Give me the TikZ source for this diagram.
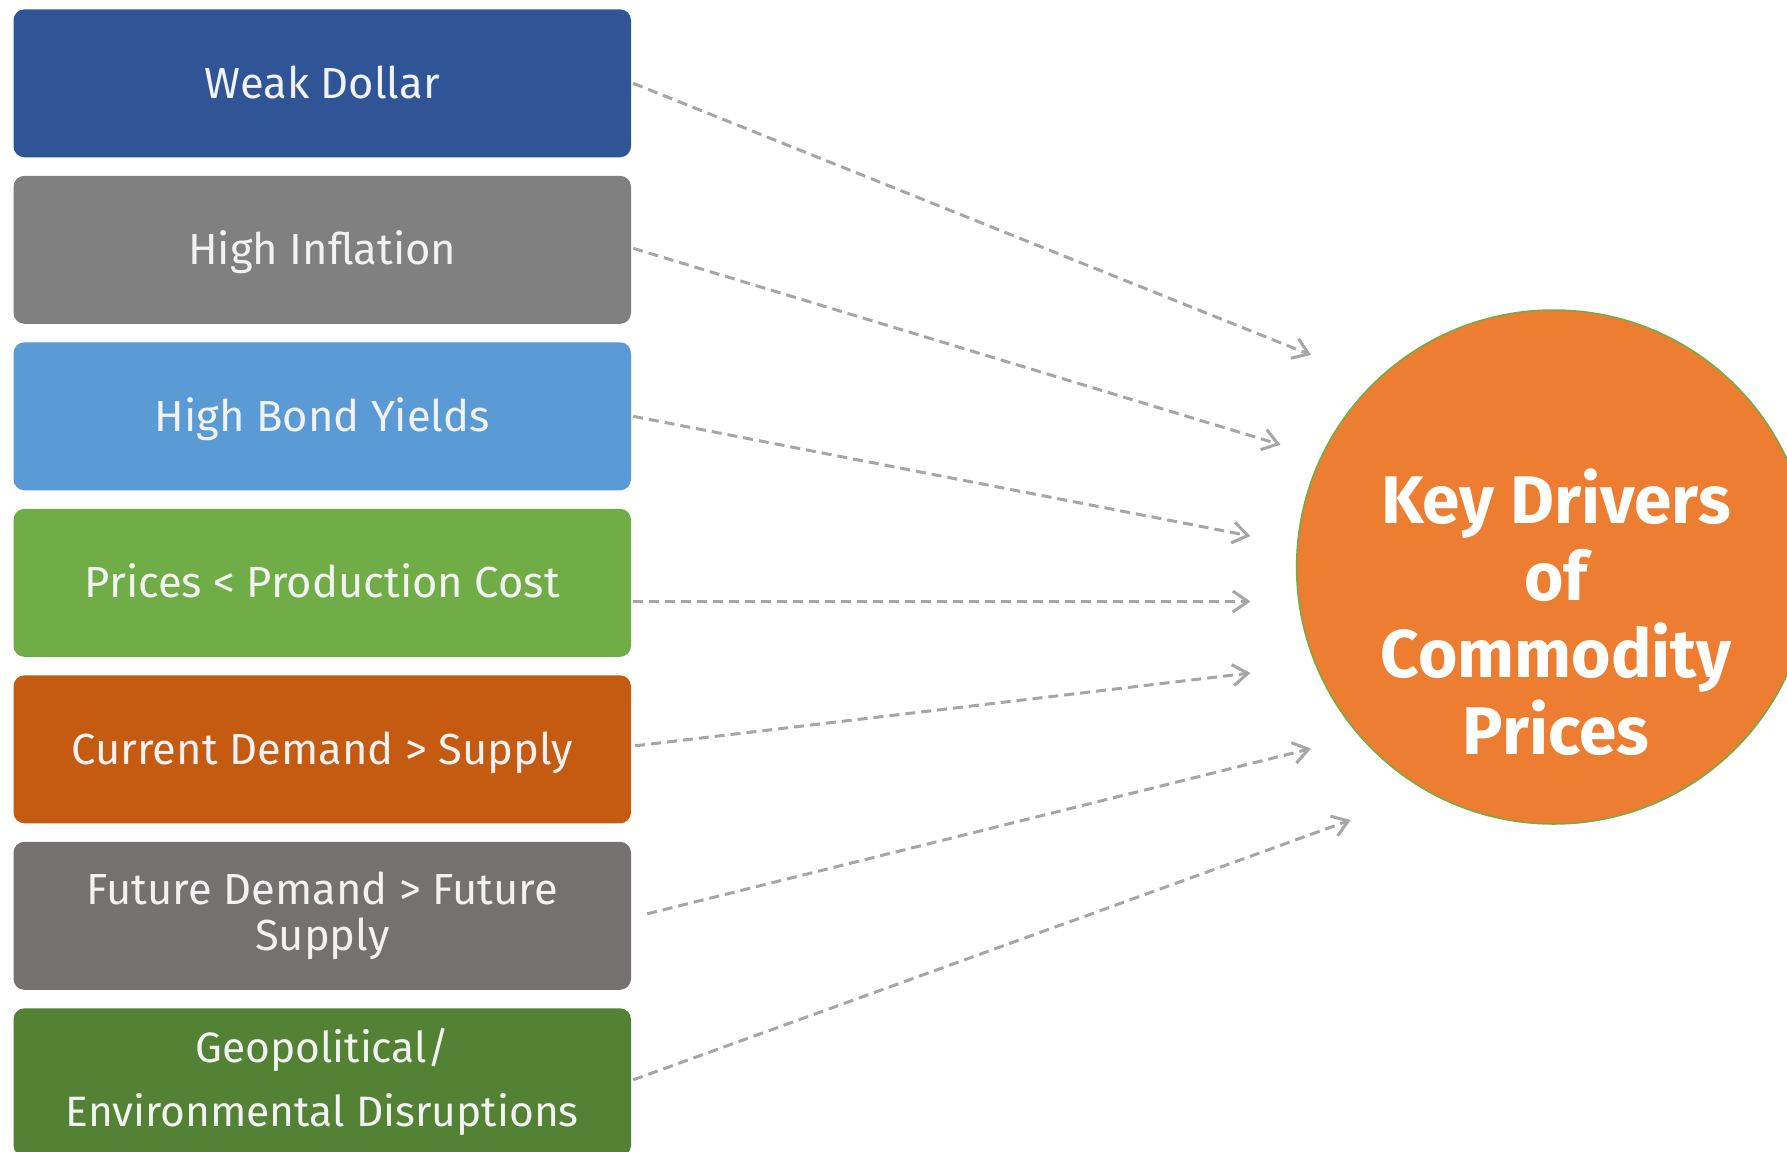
\documentclass[tikz,border=0pt]{standalone}
\usepackage{fontspec}
\setmainfont{Fira Sans}
\usetikzlibrary{arrows.meta}

\definecolor{dollarblue}{HTML}{2F5597}
\definecolor{inflgray}{HTML}{808080}
\definecolor{bondblue}{HTML}{5B9BD5}
\definecolor{costgreen}{HTML}{70AD47}
\definecolor{demandorange}{HTML}{C55A11}
\definecolor{futuregray}{HTML}{767171}
\definecolor{geogreen}{HTML}{548235}
\definecolor{huborange}{HTML}{ED7D31}
\definecolor{hubrim}{HTML}{70AD47}
\definecolor{boxtext}{HTML}{F2F2F2}
\definecolor{linkgray}{HTML}{A6A6A6}

\tikzset{
  driver/.style={rectangle, rounded corners=11pt, inner sep=0pt,
    minimum width=617.5pt, minimum height=148pt, align=center,
    text=boxtext, font=\fontsize{43.5}{45.5}\selectfont},
  oneline/.style={text height=30pt, text depth=0pt},
  link/.style={draw=linkgray, line width=3pt, dash pattern=on 10pt off 6pt,
    -{Straight Barb[length=15pt,width=21pt]}},
}

\begin{document}
\begin{tikzpicture}[x=1pt,y=-1pt]
  \useasboundingbox (0,0) rectangle (1787,1151);
  \fill[white] (0,0) rectangle (1787,1151);
  \clip (0,0) rectangle (1787,1151);

  % left column of drivers
  \node[driver, oneline, fill=dollarblue]   (b1) at (322.25,83.3)  {Weak Dollar};
  \node[driver, oneline, fill=inflgray]     (b2) at (322.25,249.8) {High Inflation};
  \node[driver, oneline, fill=bondblue]     (b3) at (322.25,416.3) {High Bond Yields};
  \node[driver, oneline, fill=costgreen]    (b4) at (322.25,582.8) {Prices < Production Cost};
  \node[driver, oneline, fill=demandorange] (b5) at (322.25,749.3) {Current Demand > Supply};
  \node[driver, fill=futuregray]   (b6) at (322.25,915.8) {Future Demand > Future\\Supply};
  \node[driver, fill=geogreen, font=\fontsize{42.5}{64}\selectfont]
                                   (b7) at (322.25,1082.3) {Geopolitical/\\Environmental Disruptions};

  % central circle
  \node[circle, fill=huborange, draw=hubrim, line width=1.5pt,
        minimum size=514pt, inner sep=0pt] (hub) at (1553.6,567) {};
  \node[align=center, text=white, inner sep=0pt,
        font=\bfseries\fontsize{67.5}{77}\selectfont] (title) at (1556,612)
        {Key Drivers\\of\\Commodity\\Prices};

  % arrow targets in front of the circle
  \coordinate (t1) at (1311,355);
  \coordinate (t2) at (1280.5,444.7);
  \coordinate (t3) at (1250.4,536);
  \coordinate (t4) at (1250.4,601.5);
  \coordinate (t5) at (1250.4,673);
  \coordinate (t6) at (1311,748.6);
  \coordinate (t7) at (1350.6,820);

  \draw[link] ([xshift=2pt]b1.east) -- (t1);
  \draw[link] ([xshift=2pt,yshift=1.5pt]b2.east) -- (t2);
  \draw[link] ([xshift=2pt]b3.east) -- (t3);
  \draw[link] ([xshift=2pt,yshift=-18.7pt]b4.east) -- (t4);
  \draw[link] ([xshift=4pt,yshift=3.5pt]b5.east) -- (t5);
  \draw[link] ([xshift=16pt,yshift=2pt]b6.east) -- (t6);
  \draw[link] ([xshift=2pt,yshift=2.5pt]b7.east) -- (t7);
\end{tikzpicture}
\end{document}
